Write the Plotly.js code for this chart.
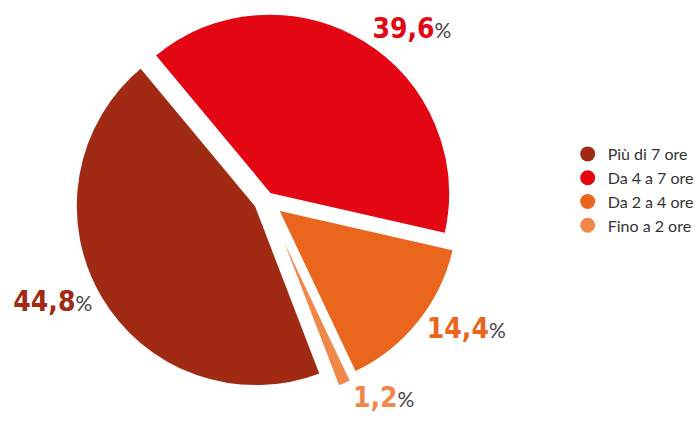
<!DOCTYPE html>
<html>
<head>
<meta charset="utf-8">
<script src="https://cdn.plot.ly/plotly-3.0.1.min.js"></script>
<style>html,body{margin:0;padding:0;background:#fff;}#chart{width:699px;height:422px;}</style>
</head>
<body>
<div id="chart"></div>
<script>
const categories = ["Più di 7 ore", "Da 4 a 7 ore", "Da 2 a 4 ore", "Fino a 2 ore"];
const shares = [44.8, 39.6, 14.4, 1.2];
const sliceColors = ["#A02A14", "#E30613", "#E9661C", "#F08849"];
const pulls = [0.065, 0.04, 0.085, 0.11];

const numFont = "'Liberation Sans Narrow', 'DejaVu Sans Condensed', sans-serif";

const pie = {
  type: "pie",
  labels: categories,
  values: shares,
  sort: false,
  direction: "clockwise",
  rotation: 159,
  pull: pulls,
  marker: { colors: sliceColors, line: { color: "#ffffff", width: 2 } },
  textposition: "outside",
  texttemplate: "<b>%{value:.1f}</b><span style=\"font-family:Lato;font-size:21px;font-weight:normal;fill:#444444\">%</span>",
  textfont: { family: numFont, size: 28, color: sliceColors },
  outsidetextfont: { family: numFont, size: 28, color: sliceColors },
  domain: { x: [0.0834, 0.6834], y: [0, 1] },
  showlegend: false,
  hoverinfo: "skip"
};

const legendTraces = categories.map((c, i) => ({
  type: "scatter",
  mode: "markers",
  x: [null], y: [null],
  name: c,
  marker: { color: sliceColors[i], size: 15, symbol: "circle" },
  showlegend: true,
  hoverinfo: "skip"
}));

const layout = {
  width: 699,
  height: 422,
  margin: { l: 0, r: 0, t: 0, b: 22 },
  paper_bgcolor: "#ffffff",
  plot_bgcolor: "#ffffff",
  separators: ",.",
  showlegend: true,
  xaxis: { visible: false },
  yaxis: { visible: false },
  legend: {
    x: 0.818, xanchor: "left",
    y: 0.525, yanchor: "middle",
    font: { family: "Lato, sans-serif", size: 16, color: "#333333" },
    bgcolor: "rgba(0,0,0,0)",
    itemclick: false, itemdoubleclick: false
  }
};

Plotly.newPlot("chart", [pie].concat(legendTraces), layout, { displayModeBar: false, staticPlot: true });
</script>
</body>
</html>
